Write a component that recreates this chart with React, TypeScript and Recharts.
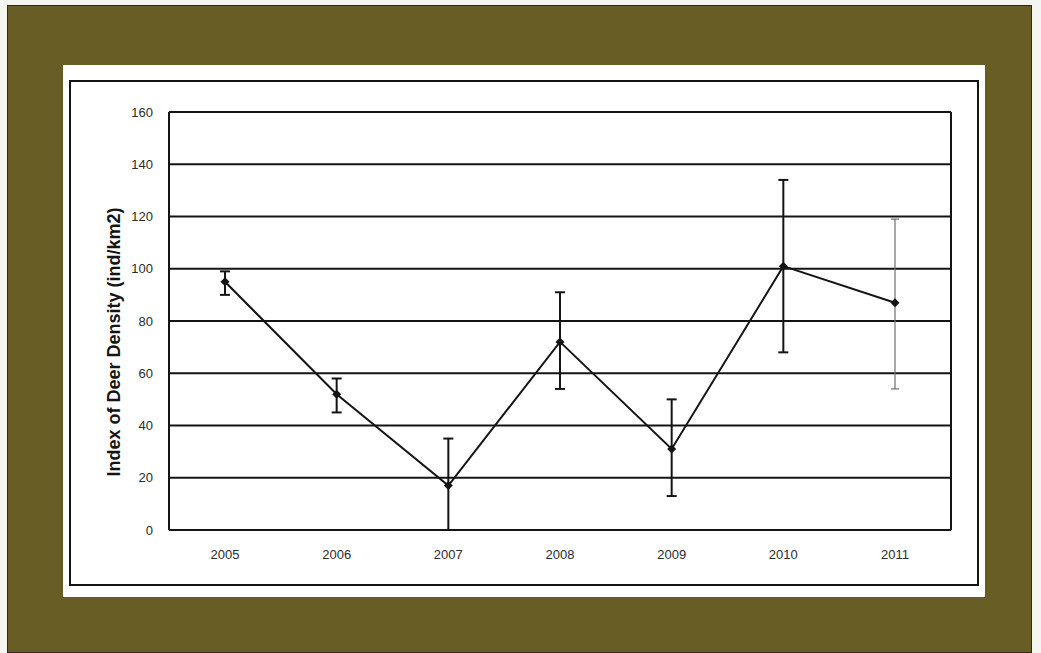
import React from "react";
import {
  LineChart,
  Line,
  XAxis,
  YAxis,
  CartesianGrid,
  ErrorBar,
} from "recharts";

const YEARS = ["2005", "2006", "2007", "2008", "2009", "2010", "2011"];
const DENSITY = [95, 52, 17, 72, 31, 101, 87];
// error offsets below / above the point
const ERR_LOW = [5, 7, 17, 18, 18, 33, 33];
const ERR_HIGH = [4, 6, 18, 19, 19, 33, 32];
// the last year's bar is drawn thin and grey in the original
const THIN_BAR_YEAR = "2011";
const Y_TICKS = [0, 20, 40, 60, 80, 100, 120, 140, 160];
const Y_LABEL = "Index of Deer Density (ind/km2)";

const data = YEARS.map((year, i) => {
  const err: [number, number] = [ERR_LOW[i], ERR_HIGH[i]];
  const thin = year === THIN_BAR_YEAR;
  return {
    year,
    density: DENSITY[i],
    err: thin ? null : err,
    thinValue: thin ? DENSITY[i] : null,
    thinErr: thin ? err : null,
  };
});

const INK = "#141414";
const OLIVE = "#685e25";

function Diamond(props: any) {
  const { cx, cy, index } = props;
  if (cx == null || cy == null) return <g key={`d-${index}`} />;
  const r = 4.5;
  return (
    <polygon
      key={`d-${index}`}
      points={`${cx},${cy - r} ${cx + r},${cy} ${cx},${cy + r} ${cx - r},${cy}`}
      fill={INK}
    />
  );
}

export default function App() {
  const tickStyle = { fontSize: 13, fill: "#2b2b2b", fontFamily: "Liberation Sans, Arial, sans-serif" };

  return (
    <div
      style={{
        position: "fixed",
        left: 0,
        top: 0,
        width: 1041,
        height: 653,
        background: "#f4f4f0",
        overflow: "hidden",
      }}
    >
      <div
        style={{
          position: "absolute",
          left: 7,
          top: 5,
          width: 1023,
          height: 646,
          background: OLIVE,
          border: "1px solid #2e2a14",
        }}
      />
      <div
        style={{
          position: "absolute",
          left: 63,
          top: 65,
          width: 922,
          height: 532,
          background: "#ffffff",
        }}
      />
      <div
        style={{
          position: "absolute",
          left: 69,
          top: 80,
          width: 906,
          height: 502,
          border: `2px solid ${INK}`,
        }}
      />
      <div style={{ position: "absolute", left: 0, top: 0 }}>
        <LineChart
          width={1041}
          height={653}
          data={data}
          margin={{ top: 112, right: 89, bottom: 93, left: 109 }}
        >
          <CartesianGrid
            horizontal
            vertical={false}
            stroke={INK}
            strokeWidth={2}
          />
          <XAxis
            dataKey="year"
            padding={{ left: 56, right: 56 }}
            tickLine={false}
            tickSize={0}
            tickMargin={20}
            height={30}
            axisLine={{ stroke: INK, strokeWidth: 2 }}
            tick={tickStyle}
          />
          <YAxis
            domain={[0, 160]}
            ticks={Y_TICKS}
            tickLine={false}
            tickSize={0}
            tickMargin={16}
            width={60}
            axisLine={{ stroke: INK, strokeWidth: 2 }}
            tick={tickStyle}
          />
          <YAxis
            yAxisId="r"
            orientation="right"
            domain={[0, 160]}
            tick={false}
            tickLine={false}
            width={1}
            axisLine={{ stroke: INK, strokeWidth: 2 }}
          />
          <Line
            dataKey="density"
            stroke={INK}
            strokeWidth={2}
            dot={Diamond}
            activeDot={false}
            isAnimationActive={false}
          >
            <ErrorBar dataKey="err" width={5} stroke={INK} strokeWidth={2} isAnimationActive={false} />
          </Line>
          <Line
            dataKey="thinValue"
            stroke="none"
            dot={false}
            activeDot={false}
            isAnimationActive={false}
          >
            <ErrorBar dataKey="thinErr" width={4} stroke="#6f6f6f" strokeWidth={1.2} isAnimationActive={false} />
          </Line>
        </LineChart>
      </div>
      <div
        style={{
          position: "absolute",
          left: 114,
          top: 342,
          transform: "translate(-50%, -50%) rotate(-90deg)",
          whiteSpace: "nowrap",
          fontFamily: "Liberation Sans, Arial, sans-serif",
          fontWeight: "bold",
          fontSize: 18,
          color: INK,
        }}
      >
        {Y_LABEL}
      </div>
    </div>
  );
}
